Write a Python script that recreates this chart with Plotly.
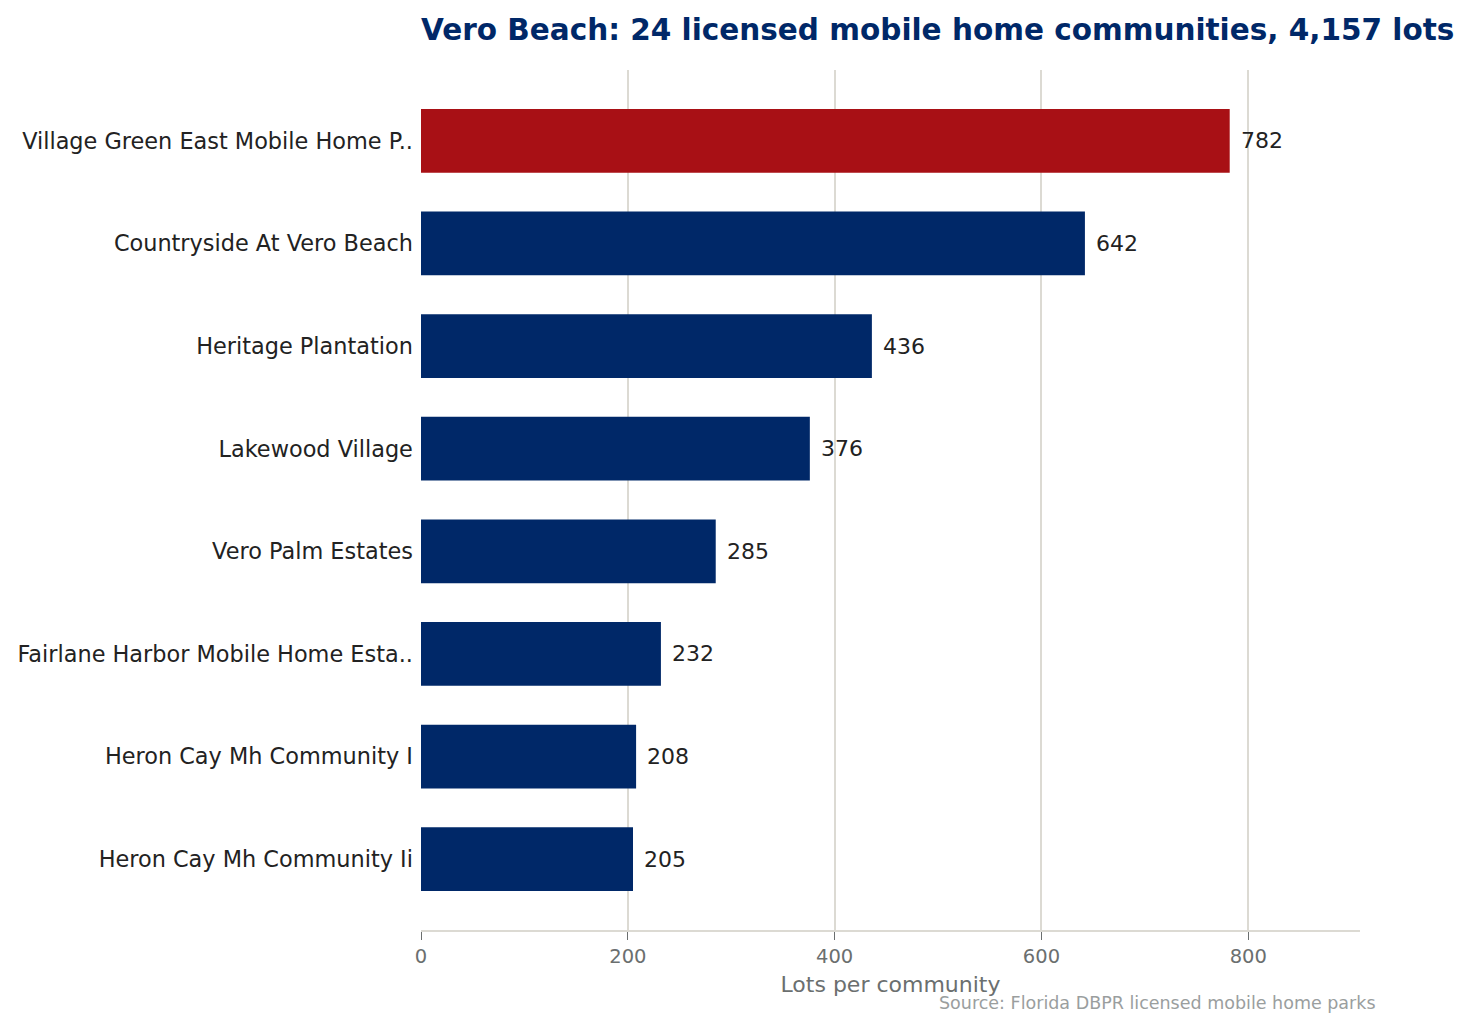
import plotly.graph_objects as go

communities = [
    "Village Green East Mobile Home P..",
    "Countryside At Vero Beach",
    "Heritage Plantation",
    "Lakewood Village",
    "Vero Palm Estates",
    "Fairlane Harbor Mobile Home Esta..",
    "Heron Cay Mh Community I",
    "Heron Cay Mh Community Ii",
]
lots = [782, 642, 436, 376, 285, 232, 208, 205]

colors = ["#A81015"] + ["#002868"] * (len(lots) - 1)

# plot box in page pixels (the page body adds an 8px offset)
PL, PR, PT, PB = 421, 1360, 70, 930
OFF = 8
W, H = 1471, 1030

fig = go.Figure()
fig.add_trace(go.Bar(
    x=lots,
    y=communities,
    orientation="h",
    marker=dict(color=colors, line=dict(width=0)),
    width=0.62,
    hoverinfo="x+y",
))

# value labels just past the end of each bar
for name, v in zip(communities, lots):
    fig.add_annotation(
        x=v, y=name, text=str(v), showarrow=False,
        xanchor="left", yanchor="middle", xshift=9,
        font=dict(size=22, color="#222222"),
    )

fig.add_annotation(
    text="Source: Florida DBPR licensed mobile home parks",
    xref="paper", yref="paper",
    x=(1378 - PL) / (PR - PL), xanchor="right",
    y=-(1003 - PB) / (PB - PT), yanchor="middle",
    showarrow=False, font=dict(size=17.5, color="#9a9e9e"),
)

fig.update_layout(
    width=W,
    height=H,
    margin=dict(l=PL - OFF, r=W + OFF - PR, t=PT - OFF, b=H + OFF - PB),
    paper_bgcolor="white",
    plot_bgcolor="white",
    font=dict(family="DejaVu Sans", size=20, color="#222222"),
    showlegend=False,
    title=dict(
        text="<b>Vero Beach: 24 licensed mobile home communities, 4,157 lots</b>",
        font=dict(size=29.5, color="#002868"),
        x=0, xref="paper", xanchor="left",
        y=1 - (30 - OFF) / H, yref="container", yanchor="middle",
    ),
    xaxis=dict(
        range=[0, 908],
        tickvals=[0, 200, 400, 600, 800],
        automargin=False,
        showgrid=True,
        gridcolor="#dcdad3",
        gridwidth=1.5,
        zeroline=False,
        showline=True,
        linecolor="#dcdad3",
        linewidth=2,
        ticks="outside",
        tickcolor="#6b6f6f",
        ticklen=8,
        tickfont=dict(size=19.5, color="#6b6f6f"),
        title=dict(text="Lots per community", font=dict(size=22, color="#6b6f6f"), standoff=9),
    ),
    yaxis=dict(
        autorange=False,
        range=[7.69, -0.69],
        automargin=False,
        showgrid=False,
        showline=False,
        ticks="",
        ticksuffix=" ",
        tickfont=dict(size=22.4, color="#222222"),
    ),
)

fig.write_html("out.html")
